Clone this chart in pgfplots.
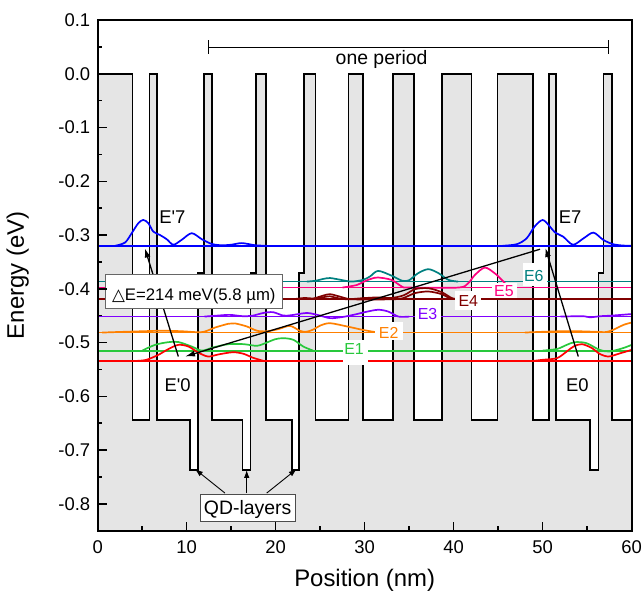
\documentclass[border=0pt]{standalone}
\usepackage{pgfplots}
\pgfplotsset{compat=1.18}
\usepackage{fontspec}
\setmainfont{Liberation Sans}
\newfontfamily\dejavu{DejaVu Sans}
\usetikzlibrary{arrows.meta}

\definecolor{cE7}{RGB}{0,0,255}
\definecolor{cE6}{RGB}{0,128,128}
\definecolor{cE5}{RGB}{255,0,128}
\definecolor{cE4}{RGB}{128,0,0}
\definecolor{cE3}{RGB}{128,0,255}
\definecolor{cE2}{RGB}{255,128,0}
\definecolor{cE1}{RGB}{40,200,60}
\definecolor{cE0}{RGB}{255,0,0}

\pgfplotsset{lev/.style={line width=1.7bp}, wf/.style={line width=1.7bp, smooth}}

\begin{document}
\begin{tikzpicture}
\path[use as bounding box] (-97.7bp,-63.3bp) rectangle (544.3bp,530.7bp);
\begin{axis}[
  at={(0,0)}, anchor=south west,
  scale only axis, width=534bp, height=510.7bp,
  xmin=0, xmax=60, ymin=-0.85, ymax=0.1,
  xtick={0,10,...,60}, minor x tick num=1,
  ytick={-0.8,-0.7,-0.6,-0.5,-0.4,-0.3,-0.2,-0.1,0,0.1},
  minor y tick num=1,
  yticklabel style={/pgf/number format/fixed, /pgf/number format/fixed zerofill,
    /pgf/number format/precision=1},
  /pgf/number format/assume math mode=true,
  tick pos=left, tick align=inside,
  major tick length=9bp, minor tick length=4.5bp,
  tick style={black, line width=1.5bp},
  axis line style={black, line width=1.9bp},
  axis on top,
  tick label style={font=\fontsize{18.5}{20}\selectfont},
  xticklabel style={yshift=-6bp},
  yticklabel style={xshift=-4bp},
  label style={font=\fontsize{24}{26}\selectfont},
  xlabel={Position (nm)}, ylabel={Energy (eV)},
  xlabel style={at={(axis description cs:0.5,-0.0965)}, anchor=center},
  ylabel style={at={(axis description cs:-0.150,0.5)}, anchor=center},
  clip=false,
]
% band profile (fill)
\addplot[fill=black!10, draw=none] coordinates {
  (0,-0.85) (0,0) (3.89,0) (3.89,-0.644) (5.80,-0.644) (5.80,0) (6.63,0)
  (6.63,-0.644) (10.37,-0.644) (10.37,-0.737) (11.30,-0.737) (11.30,-0.371)
  (11.94,-0.371) (11.94,0) (12.81,0) (12.81,-0.644) (16.29,-0.644)
  (16.29,-0.737) (17.19,-0.737) (17.19,-0.371) (17.79,-0.371) (17.79,0)
  (18.88,0) (18.88,-0.644) (21.80,-0.644) (21.80,-0.737) (22.62,-0.737)
  (22.62,-0.371) (23.15,-0.371) (23.15,0) (24.49,0) (24.49,-0.644)
  (28.16,-0.644) (28.16,0) (29.84,0) (29.84,-0.644) (33.15,-0.644) (33.15,0)
  (35.54,0) (35.54,-0.644) (38.69,-0.644) (38.69,0) (41.98,0) (41.98,-0.644)
  (44.94,-0.644) (44.94,0) (48.94,0) (48.94,-0.644) (50.74,-0.644) (50.74,0)
  (51.49,0) (51.49,-0.644) (55.30,-0.644) (55.30,-0.737) (56.25,-0.737)
  (56.25,-0.371) (56.85,-0.371) (56.85,0) (57.78,0) (57.78,-0.644)
  (60,-0.644) (60,-0.85)} -- cycle;
% band profile (outline)
\addplot[black, line width=1.6bp] coordinates {
  (0,0) (3.89,0) (3.89,-0.644) (5.80,-0.644) (5.80,0) (6.63,0)
  (6.63,-0.644) (10.37,-0.644) (10.37,-0.737) (11.30,-0.737) (11.30,-0.371)
  (11.94,-0.371) (11.94,0) (12.81,0) (12.81,-0.644) (16.29,-0.644)
  (16.29,-0.737) (17.19,-0.737) (17.19,-0.371) (17.79,-0.371) (17.79,0)
  (18.88,0) (18.88,-0.644) (21.80,-0.644) (21.80,-0.737) (22.62,-0.737)
  (22.62,-0.371) (23.15,-0.371) (23.15,0) (24.49,0) (24.49,-0.644)
  (28.16,-0.644) (28.16,0) (29.84,0) (29.84,-0.644) (33.15,-0.644) (33.15,0)
  (35.54,0) (35.54,-0.644) (38.69,-0.644) (38.69,0) (41.98,0) (41.98,-0.644)
  (44.94,-0.644) (44.94,0) (48.94,0) (48.94,-0.644) (50.74,-0.644) (50.74,0)
  (51.49,0) (51.49,-0.644) (55.30,-0.644) (55.30,-0.737) (56.25,-0.737)
  (56.25,-0.371) (56.85,-0.371) (56.85,0) (57.78,0) (57.78,-0.644)
  (60,-0.644)};

% energy levels
\addplot[cE7, lev] coordinates {(0,-0.320) (60,-0.320)};
\addplot[cE6, lev] coordinates {(0,-0.3866) (60,-0.3866)};
\addplot[cE5, lev] coordinates {(0,-0.3977) (60,-0.3977)};
\addplot[cE4, lev] coordinates {(0,-0.4193) (60,-0.4193)};
\addplot[cE3, lev] coordinates {(0,-0.4517) (60,-0.4517)};
\addplot[cE2, lev] coordinates {(0,-0.4814) (60,-0.4814)};
\addplot[cE1, lev] coordinates {(0,-0.5154) (60,-0.5154)};
\addplot[cE0, lev] coordinates {(0,-0.534) (60,-0.534)};

% wavefunctions
\addplot[cE7, wf] coordinates {
  (1.96,-0.320) (3.07,-0.314) (3.82,-0.2966) (4.56,-0.278) (5.12,-0.2719)
  (5.69,-0.278) (6.25,-0.2936) (7.0,-0.300) (7.75,-0.3077) (8.5,-0.318)
  (9.43,-0.309) (10.56,-0.2966) (11.69,-0.3077) (12.8,-0.3165) (13.9,-0.319)
  (15.0,-0.318) (16.2,-0.315) (17.7,-0.319) (19,-0.320)};
\addplot[cE7, wf] coordinates {
  (45.5,-0.320) (47.1,-0.317) (48.2,-0.306) (49.1,-0.284) (50.0,-0.272)
  (50.8,-0.284) (51.4,-0.2955) (52.3,-0.303) (53.4,-0.318) (54.6,-0.306)
  (55.7,-0.2955) (56.8,-0.309) (57.9,-0.317) (59,-0.3195) (60,-0.320)};
\addplot[cE6, wf] coordinates {
  (23.5,-0.3866) (24.5,-0.385) (25.35,-0.3816) (26.1,-0.380) (27.2,-0.383)
  (28.5,-0.3866) (29.8,-0.3834) (30.6,-0.377) (31.5,-0.3667) (33.0,-0.3754)
  (34.2,-0.385) (35.0,-0.384) (36.0,-0.371) (37.15,-0.3635) (38.3,-0.371)
  (39.4,-0.3834) (40.5,-0.3866)};
\addplot[cE5, wf] coordinates {
  (27.5,-0.3977) (29.1,-0.393) (30.0,-0.386) (30.8,-0.381) (31.5,-0.379)
  (33.0,-0.3834) (34.2,-0.396) (35,-0.3977) (40.5,-0.3977) (41.6,-0.390)
  (42.4,-0.374) (43.5,-0.3605) (44.6,-0.371) (45.4,-0.3834) (46.2,-0.3977)};
\addplot[cE4, wf] coordinates {
  (22,-0.4193) (23.3,-0.417) (24.2,-0.418) (25.35,-0.4126) (26.1,-0.410)
  (27.2,-0.4145) (28.3,-0.419) (29.8,-0.4174) (31.5,-0.416) (33,-0.417)
  (34.4,-0.412) (35.65,-0.4007) (37.15,-0.399) (38.65,-0.4063)
  (39.8,-0.4174) (40.5,-0.4193)};
\addplot[cE4, wf] coordinates {
  (24.3,-0.4193) (26.1,-0.4140) (27.8,-0.4193) (33.5,-0.4193) (34.8,-0.414)
  (35.65,-0.408) (37.15,-0.405) (38.65,-0.410) (39.6,-0.418) (40.3,-0.4193)};
\addplot[cE3, wf] coordinates {
  (12,-0.4517) (13.5,-0.4498) (14.87,-0.4485) (16.3,-0.451) (17.4,-0.450)
  (18.6,-0.445) (19.7,-0.4435) (20.85,-0.4498) (21.8,-0.449) (23.5,-0.445)
  (24.8,-0.449) (26.1,-0.4546) (27.5,-0.4525) (29.0,-0.4475) (30.0,-0.4435)
  (31.5,-0.439) (32.65,-0.4424) (33.8,-0.4517) (35,-0.4517)};
\addplot[cE3, wf] coordinates {
  (52,-0.4517) (54.5,-0.451) (55.3,-0.453) (56.5,-0.451) (57.8,-0.4498)
  (60,-0.447)};
\addplot[cE2, wf] coordinates {
  (0.5,-0.4814) (3,-0.480) (5,-0.479) (7.2,-0.478) (9.5,-0.479) (11.5,-0.481)
  (12.3,-0.478) (13.2,-0.472) (14.7,-0.465) (15.4,-0.4643) (16.74,-0.470)
  (17.9,-0.478) (19.0,-0.479) (20.3,-0.475) (21.6,-0.469) (22.7,-0.478)
  (23.4,-0.480) (24.2,-0.476) (25.0,-0.4684) (26.1,-0.464) (28.0,-0.470)
  (29.8,-0.4765) (31.0,-0.480) (32.0,-0.4814)};
\addplot[cE2, wf] coordinates {
  (48,-0.4814) (50,-0.480) (52,-0.479) (54,-0.479) (56,-0.480) (57.1,-0.4805)
  (57.9,-0.4765) (59.1,-0.467) (60,-0.4628)};
\addplot[cE1, wf] coordinates {
  (5.0,-0.515) (6.44,-0.5043) (7.93,-0.4993) (9.06,-0.4990) (10.56,-0.5074)
  (11.7,-0.5150) (13.0,-0.509) (14.7,-0.5030) (16.4,-0.503) (17.9,-0.506)
  (19.0,-0.500) (19.9,-0.494) (20.85,-0.4918) (22.0,-0.495) (23.1,-0.5074)
  (24.2,-0.515)};
\addplot[cE1, wf] coordinates {
  (50.0,-0.515) (51.6,-0.512) (52.7,-0.5043) (53.6,-0.4993) (54.9,-0.501)
  (56.4,-0.5136) (57.5,-0.5167) (59.0,-0.5105) (60,-0.5043)};
\addplot[cE0, wf] coordinates {
  (4.5,-0.534) (5.5,-0.532) (6.8,-0.523) (7.93,-0.5123) (9.06,-0.5043)
  (10.2,-0.5074) (11.3,-0.5186) (12.4,-0.526) (13.6,-0.522) (15.2,-0.518)
  (16.4,-0.521) (17.4,-0.528) (18.6,-0.534)};
\addplot[cE0, wf] coordinates {
  (49,-0.534) (50.07,-0.532) (51.6,-0.529) (52.7,-0.5167) (53.5,-0.507)
  (54.4,-0.503) (55.5,-0.510) (56.4,-0.521) (57.4,-0.526) (58.7,-0.520)
  (60,-0.5136)};

% level labels on white boxes
\fill[white] (axis cs:27.6,-0.495) rectangle (axis cs:30.4,-0.542);
\fill[white] (axis cs:31.2,-0.461) rectangle (axis cs:34.3,-0.495);
\fill[white] (axis cs:35.6,-0.430) rectangle (axis cs:38.6,-0.464);
\fill[white] (axis cs:40.1,-0.404) rectangle (axis cs:43.1,-0.439);
\fill[white] (axis cs:44.3,-0.390) rectangle (axis cs:47.1,-0.4175);
\fill[white] (axis cs:47.75,-0.352) rectangle (axis cs:50.45,-0.394);
\begin{scope}[every node/.style={anchor=base, inner sep=0pt,
    font=\fontsize{16}{18}\selectfont}]
\node[text=cE1] at (axis cs:28.8,-0.5229) {E1};
\node[text=cE2] at (axis cs:32.7,-0.4918) {E2};
\node[text=cE3] at (axis cs:37.06,-0.4578) {E3};
\node[text=cE4] at (axis cs:41.64,-0.4331) {E4};
\node[text=cE5] at (axis cs:45.65,-0.4150) {E5};
\node[text=cE6] at (axis cs:49.0,-0.3866) {E6};
\end{scope}

% transitions
\draw[black, line width=1.3bp, -{Latex[length=9bp,width=6bp]}]
  (axis cs:9.06,-0.526) -- (axis cs:5.31,-0.325);
\draw[black, line width=1.3bp, -{Latex[length=9bp,width=6bp]}]
  (axis cs:54.0,-0.526) -- (axis cs:50.3,-0.324);
\draw[black, line width=1.3bp, -{Latex[length=10bp,width=6bp]}]
  (axis cs:49.7,-0.3264) -- (axis cs:9.81,-0.526);

% Delta E box
\draw[black!60, line width=0.8bp, fill=white]
  (axis cs:0.9,-0.374) rectangle (axis cs:20.7,-0.4359);
\node[anchor=base, inner sep=0pt, font=\fontsize{16.8}{18}\selectfont]
  at (axis cs:10.8,-0.4225) {{\dejavu △}E=214 meV(5.8 µm)};

% QD-layers box and arrows
\draw[black, line width=0.9bp, -{Latex[length=8bp,width=5.5bp]}]
  (axis cs:14.3,-0.780) -- (axis cs:10.93,-0.7354);
\draw[black, line width=0.9bp, -{Latex[length=8bp,width=5.5bp]}]
  (axis cs:16.74,-0.780) -- (axis cs:16.74,-0.737);
\draw[black, line width=0.9bp, -{Latex[length=8bp,width=5.5bp]}]
  (axis cs:18.99,-0.780) -- (axis cs:22.36,-0.7354);
\draw[black!70, line width=0.8bp, fill=white]
  (axis cs:11.5,-0.783) rectangle (axis cs:22.2,-0.833);
\node[anchor=base, inner sep=0pt, font=\fontsize{19.5}{21}\selectfont]
  at (axis cs:16.85,-0.8204) {QD-layers};

% state labels
\begin{scope}[every node/.style={anchor=base, inner sep=0pt,
    font=\fontsize{18.5}{20}\selectfont}]
\node at (axis cs:8.4,-0.278) {E\textquotesingle 7};
\node at (axis cs:53.07,-0.278) {E7};
\node at (axis cs:8.97,-0.591) {E\textquotesingle 0};
\node at (axis cs:53.9,-0.591) {E0};
\end{scope}

% one period
\draw[black, line width=1.4bp] (axis cs:12.43,0.0493) -- (axis cs:57.37,0.0493);
\draw[black, line width=1.4bp] (axis cs:12.43,0.0368) -- (axis cs:12.43,0.0628);
\draw[black, line width=1.4bp] (axis cs:57.37,0.0368) -- (axis cs:57.37,0.0628);
\node[anchor=base, inner sep=0pt, font=\fontsize{19.5}{21}\selectfont]
  at (axis cs:31.9,0.0164) {one period};
\end{axis}
\end{tikzpicture}
\end{document}
